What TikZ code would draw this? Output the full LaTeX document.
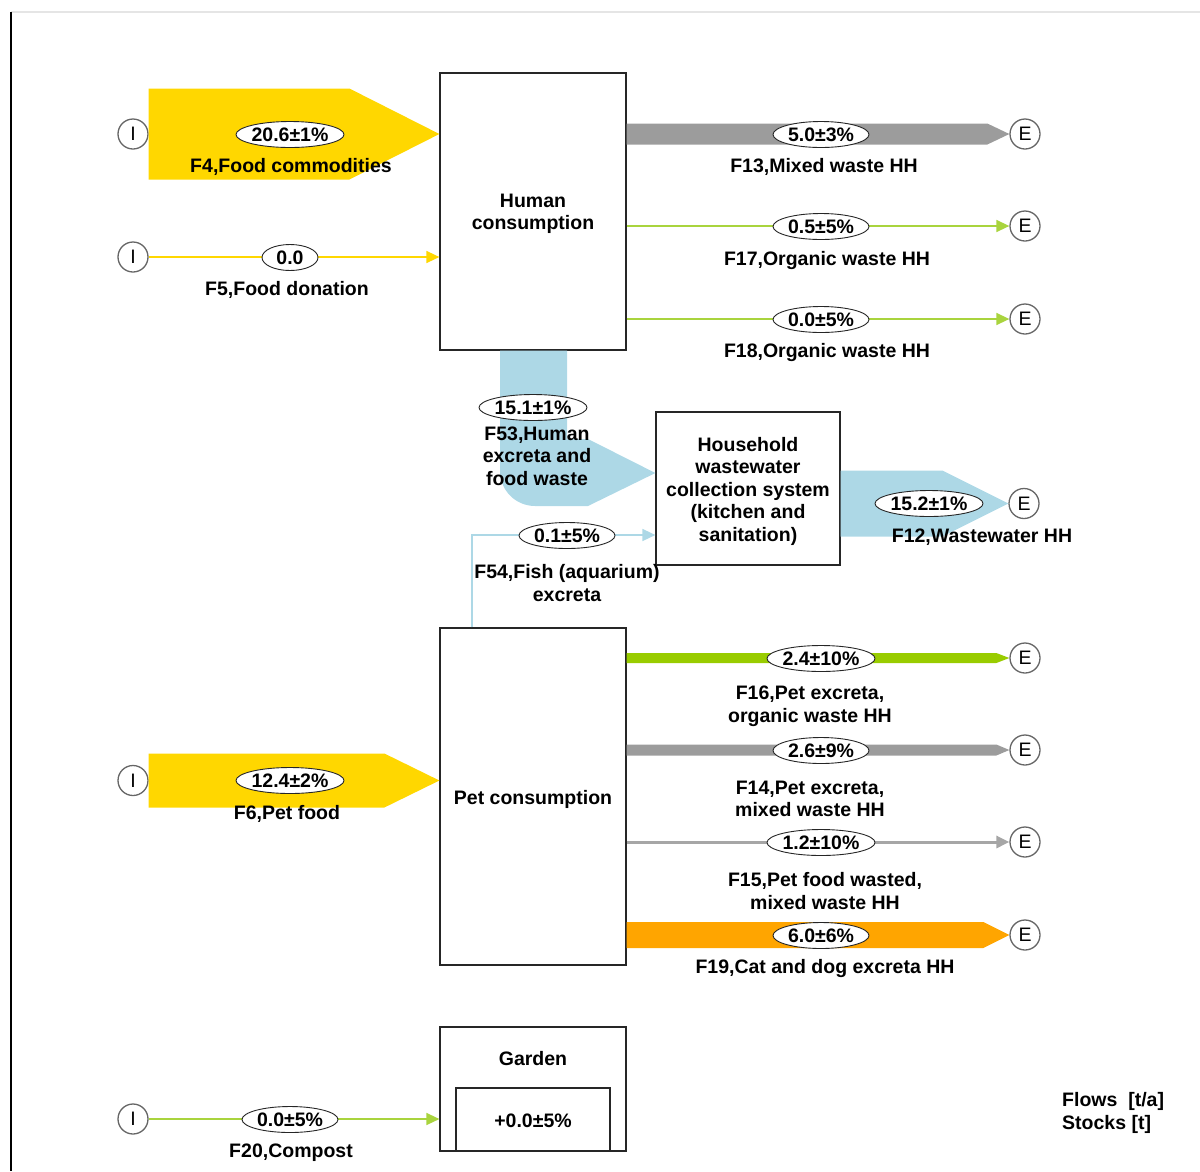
\documentclass[tikz,border=0pt]{standalone}
\usepackage{fontspec}
\setmainfont{Liberation Sans}
\usetikzlibrary{arrows.meta,calc,shapes.geometric}
\definecolor{fgold}{HTML}{FFD700}
\definecolor{fblue}{HTML}{ADD8E6}
\definecolor{fgray}{HTML}{9C9C9C}
\definecolor{fgreen}{HTML}{99CC00}
\definecolor{fline}{HTML}{A9D43E}
\definecolor{forange}{HTML}{FFA500}

% wide flow band with an arrow head as wide as the band
% #1 start, #2 tip, #3 half width, #4 head length, #5 colour
\newcommand\flowband[5]{%
  \fill[#5] ($(#1)+(0,-#3)$) -- ($(#2)+(-#4,-#3)$) -- (#2)
    -- ($(#2)+(-#4,#3)$) -- ($(#1)+(0,#3)$) -- cycle;}
\newcommand\vv[1]{\makebox[0pt]{#1}}

\begin{document}
\begin{tikzpicture}[x=1pt,y=-1pt,
  every node/.style={font=\fontsize{19.5}{22.5}\selectfont\bfseries, inner sep=0pt},
  proc/.style={draw=black!85, line width=1.2pt, fill=white},
  val/.style={ellipse, draw=black!85, line width=0.9pt, fill=white,
              minimum width=#1, minimum height=26pt},
  term/.style={circle, draw=black!60, line width=1.3pt, fill=white,
               minimum size=30pt, font=\fontsize{19.5}{19.5}\selectfont\mdseries},
  lbl/.style={align=center},
  thinflow/.style={line width=1.5pt, -{Triangle[length=13pt,width=12pt]}},
]
\useasboundingbox (0,0) rectangle (1200,1171);

% frame
\draw[black!10, line width=1.5pt] (11,12) -- (1200,12);
\draw[black, line width=2pt] (11,12) -- (11,1171);

% processes
\node[proc, minimum width=186, minimum height=277] (hc) at (533,211.5) {};
\node[lbl] (hcname) at (533,214) {Human\\consumption};
\node[proc, minimum width=184, minimum height=153] (hww) at (748,488.5) {};
\node[lbl] (hwwname) at (748,491)
  {Household\\wastewater\\collection system\\(kitchen and\\sanitation)};
\node[proc, minimum width=186, minimum height=337] (pc) at (533,796.5) {};
\node[lbl] (pcname) at (533,799) {Pet consumption};
\node[proc, minimum width=186, minimum height=124] (garden) at (533,1089) {};
\node (gardenname) at (533,1059) {Garden};
\node[proc, minimum width=154, minimum height=63] (stock) at (533,1119.5) {};
\node (stockval) at (533,1121) {+0.0\textpm5\%};

% import and export terminals
\node[term] (i4) at (133,134) {I};
\node[term] (i5) at (133,257) {I};
\node[term] (i6) at (133,780.5) {I};
\node[term] (i20) at (133,1119) {I};
\node[term] (e13) at (1025,134) {E};
\node[term] (e17) at (1025,226) {E};
\node[term] (e18) at (1025,319) {E};
\node[term] (e12) at (1024,503.5) {E};
\node[term] (e16) at (1025,658) {E};
\node[term] (e14) at (1025,750) {E};
\node[term] (e15) at (1025,842) {E};
\node[term] (e19) at (1025,935) {E};

% end points of the flows
\coordinate (a4) at (i4.east);   \coordinate (b4) at (hc.west |- i4);
\coordinate (a6) at (i6.east);   \coordinate (b6) at (pc.west |- i6);
\coordinate (a13) at (hc.east |- e13); \coordinate (b13) at (e13.west);
\coordinate (a12) at (hww.east |- e12); \coordinate (b12) at (e12.west);
\coordinate (a16) at (pc.east |- e16); \coordinate (b16) at (e16.west);
\coordinate (a14) at (pc.east |- e14); \coordinate (b14) at (e14.west);
\coordinate (a19) at (pc.east |- e19); \coordinate (b19) at (e19.west);
\coordinate (f53y) at (0,473);
\coordinate (f54y) at (0,535);

% wide flows
\flowband{a4}{b4}{45.5}{90}{fgold}
\flowband{a6}{b6}{27}{55}{fgold}
\flowband{a13}{b13}{10.5}{22}{fgray}
\flowband{a12}{b12}{33}{66}{fblue}
\flowband{a16}{b16}{5}{13}{fgreen}
\flowband{a14}{b14}{5.5}{13}{fgray}
\flowband{a19}{b19}{13}{26}{forange}
\fill[fblue] ([xshift=-33]hc.south) -- ([xshift=34]hc.south) -- (567,439) -- (588,439)
  -- (hww.west |- f53y) -- (588,506) -- (535,506)
  .. controls (515.7,506) and (500,490.3) .. (500,471) -- cycle;

% thin flows
\draw[thinflow, fgold] (i5.east) -- (hc.west |- i5);
\draw[thinflow, fline] (hc.east |- e17) -- (e17.west);
\draw[thinflow, fline] (hc.east |- e18) -- (e18.west);
\draw[thinflow, fblue] ([xshift=-61]pc.north) |- (hww.west |- f54y);
\draw[line width=3pt, fgray!90, -{Triangle[length=13pt,width=12pt]}] (pc.east |- e15) -- (e15.west);
\draw[thinflow, fline] (i20.east) -- (garden.west |- i20);

% flow values
\node[val=108] (v4) at (290,134.5) {\vv{20.6\textpm1\%}};
\node[val=56] (v5) at (290,257.5) {\vv{0.0}};
\node[val=96] (v13) at (821,134.5) {\vv{5.0\textpm3\%}};
\node[val=96] (v17) at (821,226.5) {\vv{0.5\textpm5\%}};
\node[val=96] (v18) at (821,319.5) {\vv{0.0\textpm5\%}};
\node[val=108] (v53) at (533,407.5) {\vv{15.1\textpm1\%}};
\node[val=96] (v54) at (567,535.5) {\vv{0.1\textpm5\%}};
\node[val=108] (v12) at (929,503.5) {\vv{15.2\textpm1\%}};
\node[val=108] (v16) at (821,658.5) {\vv{2.4\textpm10\%}};
\node[val=96] (v14) at (821,750.5) {\vv{2.6\textpm9\%}};
\node[val=108] (v15) at (821,842.5) {\vv{1.2\textpm10\%}};
\node[val=96] (v19) at (821,935.5) {\vv{6.0\textpm6\%}};
\node[val=108] (v6) at (290,780.5) {\vv{12.4\textpm2\%}};
\node[val=96] (v20) at (290,1119.5) {\vv{0.0\textpm5\%}};

% flow names
\node[lbl] (n4) at (291,167) {F4,Food commodities};
\node[lbl] (n5) at (287,290) {F5,Food donation};
\node[lbl] (n13) at (824,167) {F13,Mixed waste HH};
\node[lbl] (n17) at (827,260) {F17,Organic waste HH};
\node[lbl] (n18) at (827,352) {F18,Organic waste HH};
\node[lbl] (n53) at (537,456) {F53,Human\\excreta and\\food waste};
\node[lbl] (n54) at (567,583) {F54,Fish (aquarium)\\excreta};
\node[lbl] (n12) at (982,537) {F12,Wastewater HH};
\node[lbl] (n16) at (810,706) {F16,Pet excreta,\\organic waste HH};
\node[lbl] (n14) at (810,799) {F14,Pet excreta,\\mixed waste HH};
\node[lbl] (n15) at (825,891) {F15,Pet food wasted,\\mixed waste HH};
\node[lbl] (n19) at (825,968) {F19,Cat and dog excreta HH};
\node[lbl] (n6) at (287,814) {F6,Pet food};
\node[lbl] (n20) at (291,1153) {F20,Compost};

% units
\node[anchor=west, align=left] (units) at (1062,1113) {Flows\ \ [t/a]\\Stocks [t]};
\end{tikzpicture}
\end{document}
